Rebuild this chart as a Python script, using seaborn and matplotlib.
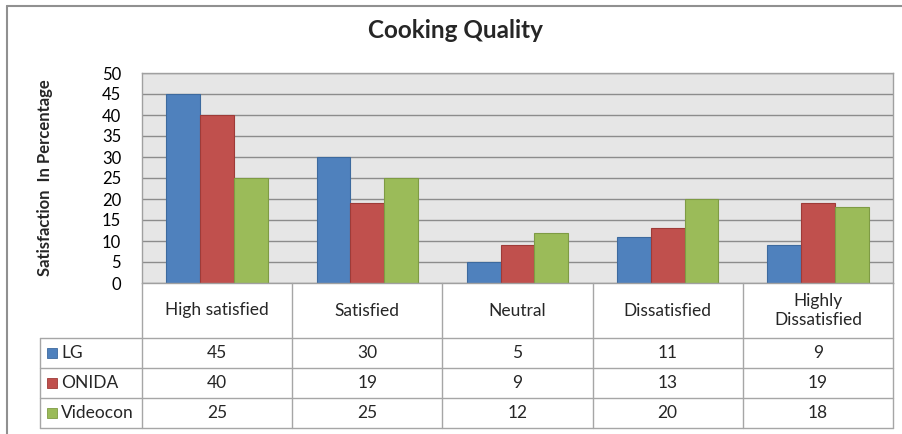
import matplotlib
matplotlib.use("Agg")
import matplotlib.pyplot as plt
import seaborn as sns
import pandas as pd
from matplotlib.lines import Line2D
from matplotlib.patches import Rectangle

categories = ["High satisfied", "Satisfied", "Neutral", "Dissatisfied", "Highly\nDissatisfied"]
series_names = ["LG", "ONIDA", "Videocon"]
lg = [45, 30, 5, 11, 9]
onida = [40, 19, 9, 13, 19]
videocon = [25, 25, 12, 20, 18]
yticks = [0, 5, 10, 15, 20, 25, 30, 35, 40, 45, 50]
title = "Cooking Quality"
ylabel = "Satisfaction  In Percentage"
colors = ["#4F81BD", "#C0504D", "#9BBB59"]
edges = ["#3D6A9E", "#9E3B38", "#7E9B44"]

values = [lg, onida, videocon]
df = pd.DataFrame({
    "category": [c for _ in series_names for c in categories],
    "brand": [s for s in series_names for _ in categories],
    "value": [v for vals in values for v in vals],
})

sns.set_theme(style="white")
plt.rcParams["font.family"] = ["Lato", "DejaVu Sans"]

W, H = 902, 434
fig = plt.figure(figsize=(W / 100, H / 100), dpi=100)

def fx(px):
    return px / W

def fy(py):
    return 1 - py / H

# plot area
L, R, T, B = 142, 893, 73, 283
ax = fig.add_axes([fx(L), fy(B), fx(R) - fx(L), fy(T) - fy(B)])
ax.set_facecolor("#E6E6E6")
sns.barplot(data=df, x="category", y="value", hue="brand", order=categories,
            hue_order=series_names, palette=colors, width=0.675, gap=0,
            ax=ax, legend=False, saturation=1, linewidth=0.8)
for i, cont in enumerate(ax.containers):
    for p in cont:
        p.set_edgecolor(edges[i])
ax.set_ylim(0, 50)
ax.set_xlim(-0.5, len(categories) - 0.5)
ax.set_yticks(yticks)
ax.set_yticklabels([str(t) for t in yticks], fontsize=12, color="#000000")
ax.set_xticks([])
ax.set_xlabel("")
ax.set_ylabel("")
ax.tick_params(axis="y", length=0, pad=15)
ax.yaxis.grid(True, color="#8C8C8C", linewidth=1)
ax.set_axisbelow(True)
for s in ax.spines.values():
    s.set_color("#A0A0A0")
    s.set_linewidth(1)

# title and y label
fig.text(fx(455), fy(31), title, ha="center", va="center", fontsize=17.5, fontweight="bold")
fig.text(fx(45), fy(178), ylabel, ha="center", va="center", rotation=90, fontsize=12,
         fontweight="bold")

# outer frame
lc = "#909090"
fig.add_artist(Line2D([fx(7), fx(902)], [fy(6), fy(6)], color=lc, lw=1.5))
fig.add_artist(Line2D([fx(7), fx(7)], [fy(6), fy(434)], color=lc, lw=1.5))

# data table
tc = "#A6A6A6"
col_edges = [L + (R - L) * i / len(categories) for i in range(len(categories) + 1)]
row_edges = [338, 368, 398, 428]
for x in col_edges:
    fig.add_artist(Line2D([fx(x), fx(x)], [fy(B), fy(428)], color=tc, lw=1))
fig.add_artist(Line2D([fx(40), fx(40)], [fy(338), fy(428)], color=tc, lw=1))
for y in row_edges:
    fig.add_artist(Line2D([fx(40), fx(R)], [fy(y), fy(y)], color=tc, lw=1))

for j, cat in enumerate(categories):
    cx = (col_edges[j] + col_edges[j + 1]) / 2
    fig.text(fx(cx), fy((B + 338) / 2), cat, ha="center", va="center", fontsize=12.5,
             linespacing=1.25)

for i, name in enumerate(series_names):
    cy = (row_edges[i] + row_edges[i + 1]) / 2
    fig.add_artist(Rectangle((fx(47), fy(cy + 5)), fx(10), fy(0) - fy(10),
                             facecolor=colors[i], edgecolor=edges[i], lw=0.6,
                             transform=fig.transFigure))
    fig.text(fx(61), fy(cy), name, ha="left", va="center", fontsize=12.5)
    for j, v in enumerate(values[i]):
        cx = (col_edges[j] + col_edges[j + 1]) / 2
        fig.text(fx(cx), fy(cy), str(v), ha="center", va="center", fontsize=12.5)

fig.savefig("out.png", dpi=100)
